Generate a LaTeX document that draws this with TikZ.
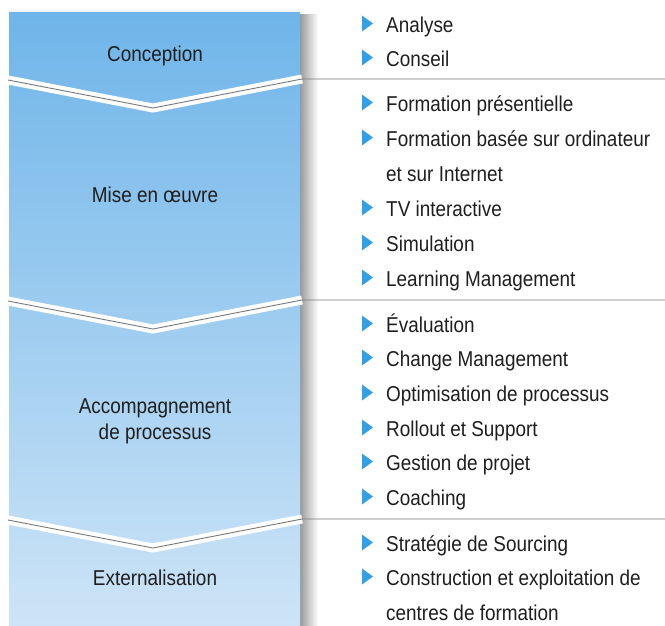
\documentclass[tikz,border=0pt]{standalone}
\usepackage{fontspec}
\setmainfont{Liberation Sans}[FakeStretch=0.88]
\definecolor{bartop}{RGB}{111,181,233}
\definecolor{barbot}{RGB}{205,228,247}
\definecolor{bul}{RGB}{52,160,228}
\definecolor{txt}{RGB}{30,30,30}
\definecolor{sepgray}{RGB}{120,120,120}
\tikzset{
  item/.style={anchor=base west, inner sep=0pt, text=txt, font=\fontsize{21.5}{26}\selectfont},
  phase/.style={inner sep=0pt, text=txt, font=\fontsize{21.5}{26}\selectfont, align=center},
  bullet/.style={fill=bul, draw=none},
}
\begin{document}
\begin{tikzpicture}[x=1pt,y=-1pt]
\useasboundingbox (0,0) rectangle (665,625);
% shadow
\shade[left color=black!40, right color=white] (300,14) rectangle (318,625);
\shade[top color=white, bottom color=black!6] (9,7) rectangle (300,12);
% bar
\shade[top color=bartop, bottom color=barbot] (9,12) rectangle (300,625);
% separators
\foreach \y in {79,300,519}{
  \draw[white, line width=9pt] (8,\y+1) -- (153,\y+29) -- (302,\y);
  \draw[sepgray, line width=0.9pt] (8,\y+1) -- (153,\y+29) -- (302,\y) -- (665,\y);
}
% phase labels
\node[phase, anchor=base] (conc) at (155,61.5) {Conception};
\node[phase, anchor=base] (mise) at (155,202.5) {Mise en œuvre};
\node[phase, anchor=center] (acc) at (155,421) {Accompagnement\\de processus};
\node[phase, anchor=base] (ext) at (155,585.5) {Externalisation};
% items
\foreach \b/\t/\n in {32/Analyse/i1, 66/Conseil/i2, 111/Formation présentielle/i3,
  146/Formation basée sur ordinateur/i4, 216/TV interactive/i6, 251/Simulation/i7,
  286/Learning Management/i8, 332/Évaluation/i9, 366/Change Management/i10,
  401/Optimisation de processus/i11, 436/Rollout et Support/i12, 470/Gestion de projet/i13,
  505/Coaching/i14, 551/Stratégie de Sourcing/i15, 585/Construction et exploitation de/i16}{
  \fill[bullet] (362,\b-16.5) -- (373,\b-8.5) -- (362,\b-0.5) -- cycle;
  \node[item] (\n) at (386,\b) {\t};
}
\node[item] (i5) at (386,181) {et sur Internet};
\node[item] (i17) at (386,620) {centres de formation};
\end{tikzpicture}
\end{document}
